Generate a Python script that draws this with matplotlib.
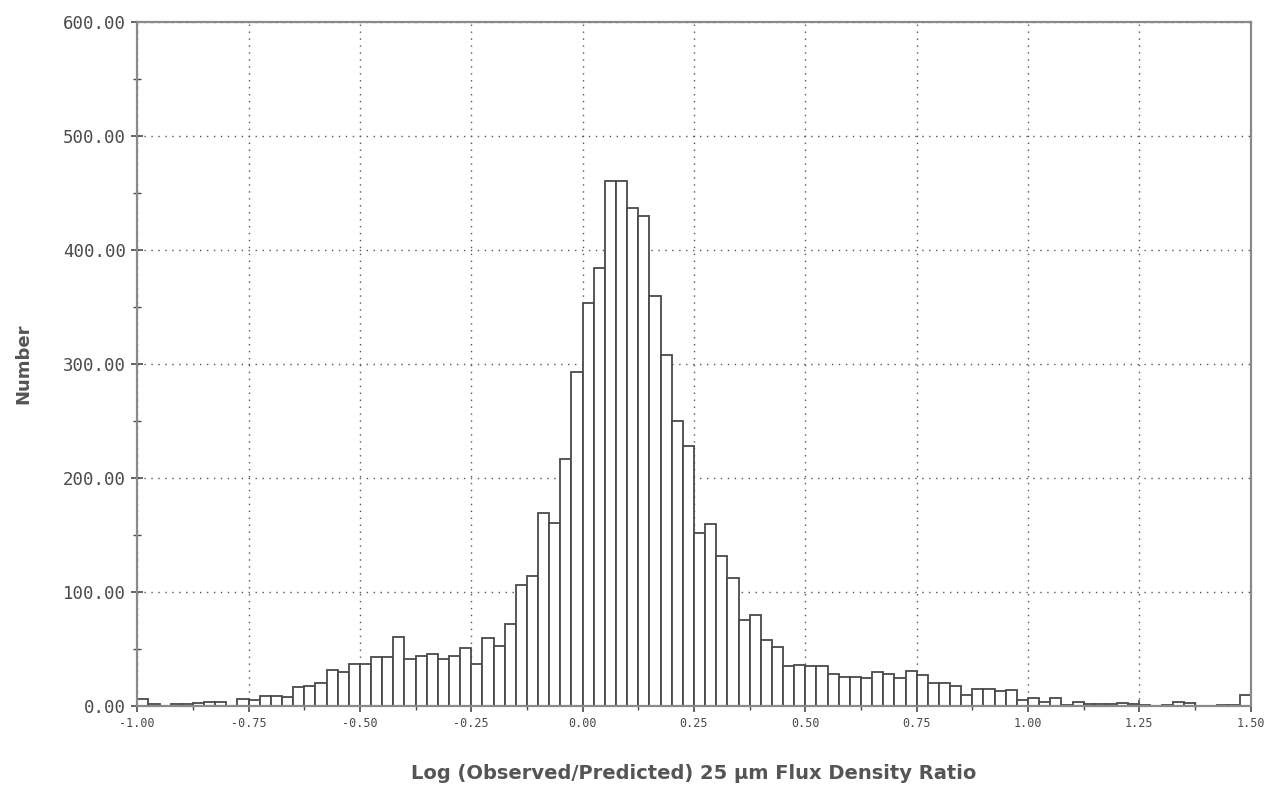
import matplotlib.pyplot as plt
import numpy as np

# bin left edges, width 0.025 from -1.00 to 1.50
bin_width = 0.025
bin_edges = [round(-1.0 + bin_width * i, 3) for i in range(100)]
counts = [6, 2, 0, 2, 2, 3, 4, 4, 0, 6,
          5, 9, 9, 8, 17, 18, 20, 32, 30, 37,
          37, 43, 43, 61, 41, 44, 46, 41, 44, 51,
          37, 60, 53, 72, 106, 114, 169, 161, 217, 293,
          354, 384, 461, 461, 437, 430, 360, 308, 250, 228,
          152, 160, 132, 112, 76, 80, 58, 52, 35, 36,
          35, 35, 28, 26, 26, 25, 30, 28, 25, 31,
          27, 20, 20, 18, 10, 15, 15, 13, 14, 5,
          7, 4, 7, 1, 4, 2, 2, 2, 3, 2,
          1, 0, 1, 4, 3, 0, 0, 1, 1, 10]

x_ticks = [-1.0, -0.75, -0.5, -0.25, 0.0, 0.25, 0.5, 0.75, 1.0, 1.25, 1.5]
y_ticks = [0, 100, 200, 300, 400, 500, 600]

ink = '#4a4a4a'

fig = plt.figure(figsize=(12.71, 7.89), dpi=100)
ax = fig.add_axes([0.108, 0.105, 0.876, 0.867])

ax.bar(bin_edges, counts, width=bin_width, align='edge',
       facecolor='white', edgecolor=ink, linewidth=1.3, zorder=2)

ax.set_xlim(-1.0, 1.5)
ax.set_ylim(0, 600)
ax.set_xticks(x_ticks)
ax.set_xticklabels(['%.2f' % t for t in x_ticks], fontsize=8.5,
                   family='DejaVu Sans Mono', color=ink)
ax.set_yticks(y_ticks)
ax.set_yticklabels(['%.2f' % t for t in y_ticks], fontsize=12.5,
                   family='DejaVu Sans Mono', color=ink)
ax.set_xticks(np.arange(-0.875, 1.5, 0.25), minor=True)
ax.set_yticks(np.arange(50, 600, 100), minor=True)
ax.tick_params(which='major', direction='inout', length=8, width=1.2, color=ink, pad=4)
ax.tick_params(which='minor', direction='inout', length=6, width=1.0, color=ink)

ax.grid(True, which='major', color='#555555', linestyle=(0, (1, 4)), linewidth=1.0)
ax.set_axisbelow(True)

for s in ax.spines.values():
    s.set_color('#8a8a8a')
    s.set_linewidth(1.6)

ax.set_xlabel('Log (Observed/Predicted) 25 \u03bcm Flux Density Ratio',
              fontsize=14, fontweight='bold', color='#555555', labelpad=24)
ax.set_ylabel('Number', fontsize=13, fontweight='bold', color='#555555', labelpad=22)

fig.savefig('out.png', dpi=100, facecolor='white')
